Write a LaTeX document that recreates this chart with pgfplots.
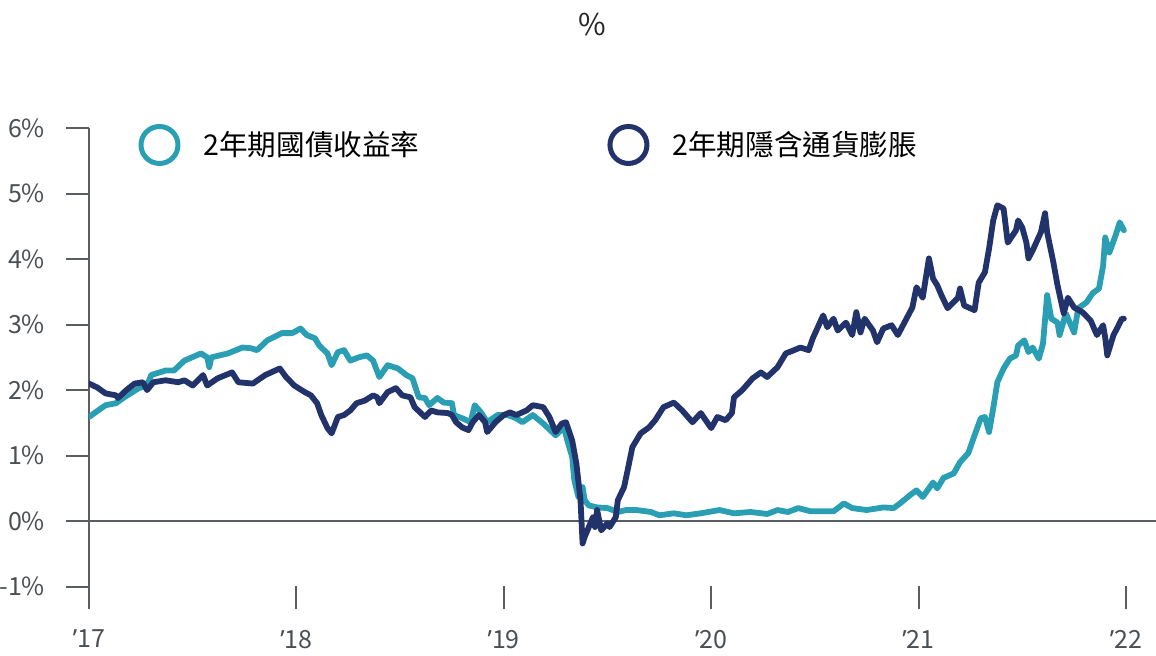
\documentclass[border=0pt]{standalone}
\usepackage{pgfplots}
\pgfplotsset{compat=1.18}
\usepackage{fontspec}
\setmainfont{Noto Sans CJK TC}
\newfontfamily\quotefont{Noto Sans}
\newcommand{\yr}[1]{{\quotefont ’}#1}
\definecolor{yieldteal}{HTML}{2A9FB4}
\definecolor{inflnavy}{HTML}{22326A}
\definecolor{axgray}{HTML}{5A5E62}
\definecolor{lblgray}{HTML}{4A4F54}

\begin{document}
\begin{tikzpicture}[x=1pt,y=1pt]
\path[use as bounding box] (0,0) rectangle (578,328);
\begin{axis}[
  at={(44.5pt,23.5pt)}, anchor=south west,
  scale only axis, width=533.5pt, height=240.5pt,
  xmin=2017, xmax=2022.145, ymin=-1.34, ymax=6,
  axis lines*=left,
  axis line style={axgray, line width=1pt},
  x axis line style={draw=none},
  xtick={2017,2018,2019,2020,2021,2022},
  xticklabels={\yr{17},\yr{18},\yr{19},\yr{20},\yr{21},\yr{22}},
  ytick={-1,0,1,2,3,4,5,6},
  yticklabels={-1\%,0\%,1\%,2\%,3\%,4\%,5\%,6\%},
  xtick align=inside, ytick align=outside,
  major tick length=11.5pt,
  tick style={axgray, line width=1pt},
  minor tick num=0,
  tick label style={font=\fontsize{12.5}{14}\selectfont, text=lblgray},
  xticklabel style={yshift=-7pt},
  yticklabel style={xshift=-7pt},
  extra y ticks={0}, extra y tick labels={},
  extra y tick style={grid=major, major grid style={axgray, line width=1pt}},
  title={\%},
  title style={at={(axis description cs:0.472,1.19)}, anchor=center,
    font=\fontsize{15}{17}\selectfont, text=black!85},
  legend columns=2,
  legend style={draw=none, fill=none, inner sep=0pt,
    at={(axis description cs:0.046,0.9647)}, anchor=west,
    font=\fontsize{14.3}{16}\selectfont,
    /tikz/every even column/.append style={column sep=92pt}},
  legend image code/.code={\draw[line width=2.5pt] (10.5pt,0) circle (9.25pt); \path (29pt,0);},
  every axis plot/.append style={line width=2.9pt, line join=round, line cap=round, mark=none},
]
% 2-year Treasury yield
\addplot[yieldteal] coordinates {
(2017.00,1.59) (2017.08,1.77) (2017.13,1.80) (2017.17,1.89) (2017.24,2.03)
(2017.28,2.07) (2017.30,2.23) (2017.37,2.30) (2017.41,2.30) (2017.46,2.45)
(2017.54,2.56) (2017.57,2.50) (2017.58,2.35) (2017.59,2.50) (2017.67,2.56)
(2017.74,2.65) (2017.78,2.64) (2017.81,2.61) (2017.86,2.76) (2017.93,2.87)
(2017.98,2.87) (2018.02,2.94) (2018.05,2.84) (2018.09,2.79) (2018.11,2.68)
(2018.15,2.56) (2018.17,2.38) (2018.20,2.58) (2018.23,2.61) (2018.26,2.45)
(2018.30,2.50) (2018.34,2.53) (2018.37,2.45) (2018.40,2.20) (2018.44,2.38)
(2018.49,2.33) (2018.53,2.23) (2018.56,2.18) (2018.59,1.89) (2018.62,1.88)
(2018.64,1.77) (2018.68,1.88) (2018.71,1.81) (2018.75,1.80) (2018.76,1.62)
(2018.80,1.57) (2018.84,1.51) (2018.86,1.77) (2018.89,1.66) (2018.92,1.51)
(2018.97,1.62) (2019.02,1.62) (2019.06,1.57) (2019.09,1.51) (2019.14,1.62)
(2019.19,1.49) (2019.25,1.31) (2019.29,1.43) (2019.31,1.19) (2019.33,0.98)
(2019.34,0.63) (2019.36,0.37) (2019.38,0.52) (2019.39,0.32) (2019.41,0.24)
(2019.45,0.21) (2019.50,0.20) (2019.55,0.14) (2019.59,0.17) (2019.64,0.17)
(2019.71,0.14) (2019.75,0.09) (2019.82,0.12) (2019.88,0.09) (2019.95,0.12)
(2020.04,0.17) (2020.11,0.12) (2020.19,0.14) (2020.27,0.11) (2020.32,0.17)
(2020.37,0.14) (2020.42,0.20) (2020.48,0.15) (2020.59,0.15) (2020.64,0.27)
(2020.68,0.20) (2020.75,0.17) (2020.83,0.21) (2020.88,0.20) (2020.91,0.27)
(2020.96,0.40) (2020.99,0.47) (2021.02,0.37) (2021.07,0.59) (2021.09,0.50)
(2021.12,0.66) (2021.17,0.73) (2021.20,0.90) (2021.24,1.04) (2021.27,1.31)
(2021.30,1.57) (2021.32,1.59) (2021.34,1.36) (2021.36,1.72) (2021.38,2.12)
(2021.41,2.33) (2021.44,2.48) (2021.47,2.53) (2021.48,2.68) (2021.51,2.76)
(2021.53,2.58) (2021.55,2.65) (2021.58,2.48) (2021.60,2.71) (2021.62,3.45)
(2021.64,3.09) (2021.67,3.03) (2021.68,2.84) (2021.71,3.17) (2021.75,2.88)
(2021.77,3.25) (2021.81,3.34) (2021.84,3.48) (2021.87,3.55) (2021.89,3.90)
(2021.90,4.33) (2021.92,4.10) (2021.95,4.36) (2021.97,4.56) (2021.99,4.44)
};
% 2-year implied inflation
\addplot[inflnavy] coordinates {
(2017.00,2.10) (2017.04,2.04) (2017.08,1.95) (2017.13,1.92) (2017.14,1.88)
(2017.18,2.00) (2017.22,2.10) (2017.26,2.12) (2017.28,2.00) (2017.31,2.12)
(2017.37,2.15) (2017.43,2.12) (2017.46,2.15) (2017.50,2.07) (2017.55,2.23)
(2017.57,2.07) (2017.62,2.18) (2017.69,2.27) (2017.72,2.12) (2017.79,2.10)
(2017.85,2.23) (2017.92,2.33) (2017.95,2.20) (2017.99,2.07) (2018.04,1.97)
(2018.07,1.92) (2018.10,1.80) (2018.12,1.62) (2018.15,1.42) (2018.17,1.34)
(2018.20,1.59) (2018.23,1.62) (2018.26,1.69) (2018.29,1.80) (2018.33,1.84)
(2018.37,1.92) (2018.39,1.89) (2018.40,1.80) (2018.44,1.97) (2018.48,2.03)
(2018.51,1.92) (2018.55,1.89) (2018.57,1.74) (2018.62,1.59) (2018.65,1.69)
(2018.68,1.66) (2018.73,1.65) (2018.75,1.62) (2018.77,1.51) (2018.80,1.43)
(2018.83,1.39) (2018.85,1.51) (2018.88,1.62) (2018.91,1.51) (2018.92,1.36)
(2018.96,1.51) (2019.00,1.62) (2019.03,1.66) (2019.06,1.62) (2019.11,1.69)
(2019.14,1.77) (2019.19,1.74) (2019.22,1.59) (2019.25,1.36) (2019.28,1.49)
(2019.30,1.51) (2019.33,1.23) (2019.35,0.88) (2019.37,0.32) (2019.38,-0.34)
(2019.39,-0.24) (2019.41,-0.09) (2019.43,0.06) (2019.44,-0.09) (2019.45,0.17)
(2019.47,-0.14) (2019.50,-0.03) (2019.51,-0.09) (2019.54,0.06) (2019.55,0.32)
(2019.58,0.52) (2019.60,0.82) (2019.62,1.13) (2019.66,1.34) (2019.70,1.43)
(2019.73,1.54) (2019.77,1.74) (2019.82,1.81) (2019.86,1.69) (2019.91,1.51)
(2019.95,1.65) (2020.00,1.42) (2020.03,1.59) (2020.07,1.54) (2020.10,1.65)
(2020.11,1.89) (2020.15,2.00) (2020.20,2.18) (2020.24,2.27) (2020.27,2.20)
(2020.32,2.35) (2020.36,2.56) (2020.40,2.61) (2020.43,2.65) (2020.47,2.61)
(2020.49,2.79) (2020.54,3.14) (2020.56,2.96) (2020.59,3.09) (2020.61,2.91)
(2020.65,3.03) (2020.68,2.84) (2020.70,3.19) (2020.72,2.88) (2020.74,3.09)
(2020.78,2.91) (2020.80,2.73) (2020.83,2.94) (2020.87,2.99) (2020.90,2.84)
(2020.95,3.14) (2020.97,3.26) (2020.99,3.57) (2021.02,3.41) (2021.05,4.01)
(2021.07,3.70) (2021.09,3.60) (2021.11,3.45) (2021.14,3.25) (2021.19,3.41)
(2021.20,3.55) (2021.22,3.29) (2021.27,3.22) (2021.29,3.64) (2021.32,3.80)
(2021.34,4.16) (2021.36,4.59) (2021.38,4.82) (2021.41,4.77) (2021.43,4.25)
(2021.47,4.44) (2021.48,4.59) (2021.50,4.48) (2021.52,4.25) (2021.53,4.01)
(2021.55,4.13) (2021.59,4.41) (2021.61,4.70) (2021.62,4.41) (2021.65,3.95)
(2021.67,3.60) (2021.70,3.17) (2021.72,3.41) (2021.75,3.26) (2021.79,3.19)
(2021.83,3.06) (2021.86,2.84) (2021.89,2.99) (2021.90,2.80) (2021.91,2.53)
(2021.94,2.84) (2021.96,2.96) (2021.98,3.09) (2021.99,3.09)
};
\legend{2年期國債收益率, 2年期隱含通貨膨脹}
\end{axis}
\end{tikzpicture}
\end{document}
